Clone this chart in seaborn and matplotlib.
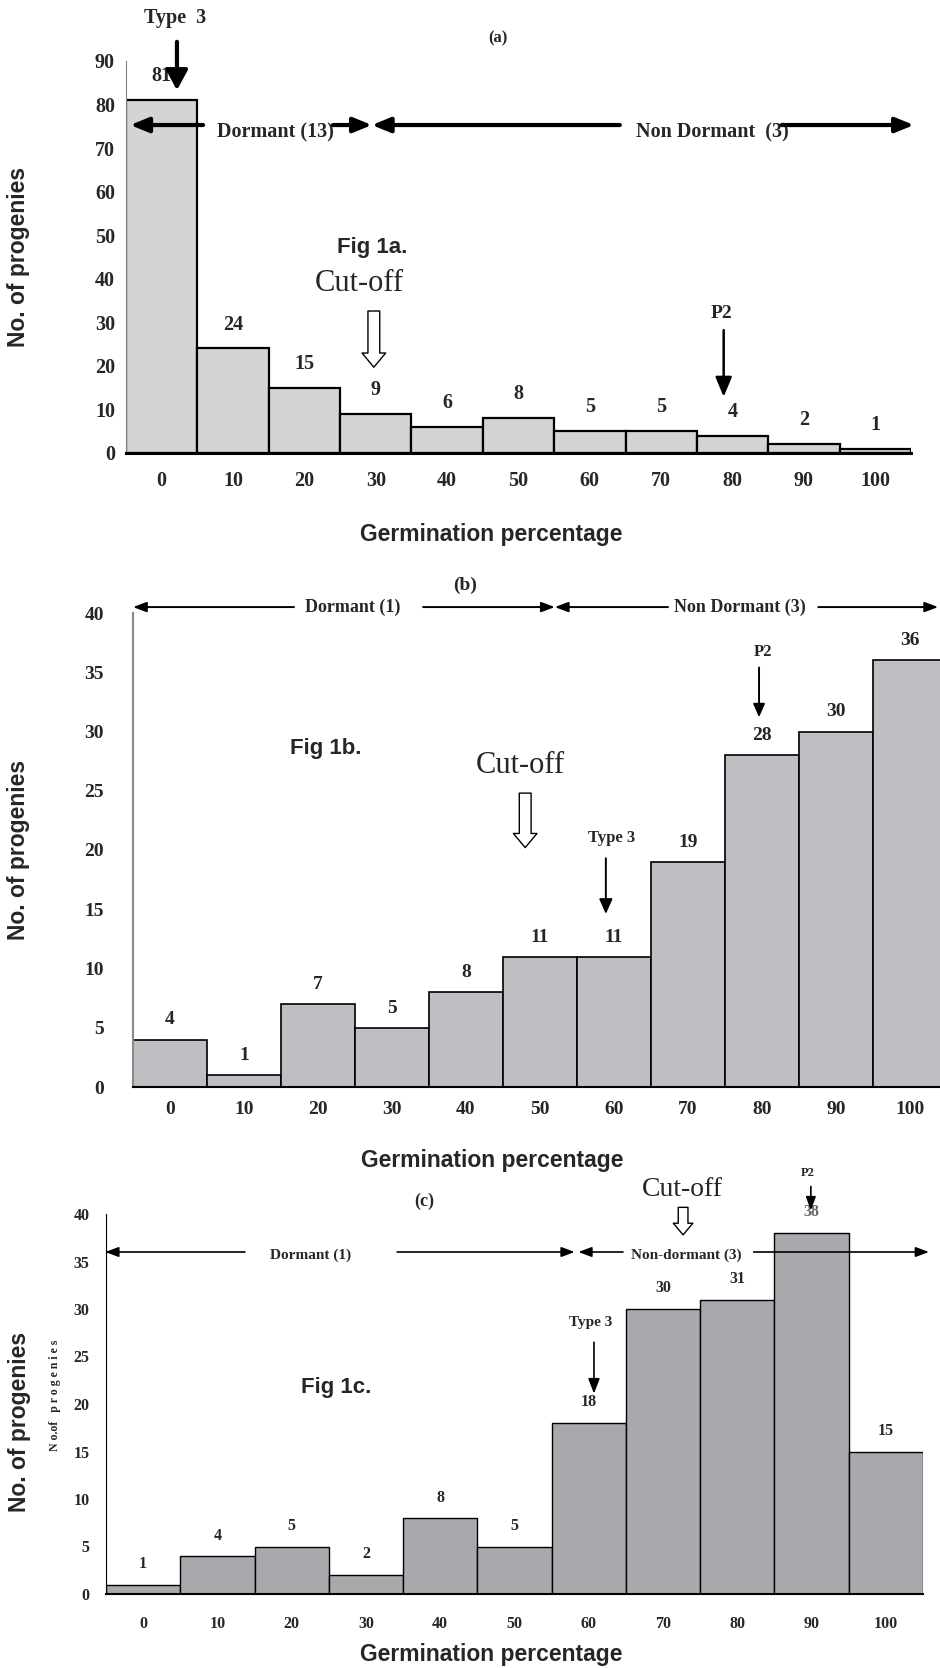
import matplotlib
matplotlib.use('Agg')
import matplotlib.pyplot as plt
import seaborn as sns
import numpy as np

# ==================== Data ====================
germ_pct = ['0', '10', '20', '30', '40', '50', '60', '70', '80', '90', '100']
counts_a = [81, 24, 15, 9, 6, 8, 5, 5, 4, 2, 1]
counts_b = [4, 1, 7, 5, 8, 11, 11, 19, 28, 30, 36]
counts_c = [1, 4, 5, 2, 8, 5, 18, 30, 31, 38, 15]

sns.set_style('white')
plt.rcParams['font.family'] = ['Liberation Serif', 'DejaVu Serif']
plt.rcParams['font.weight'] = 'bold'

W, H = 940, 1668
fig = plt.figure(figsize=(W / 100, H / 100), dpi=100)
SANS = ['Liberation Sans', 'DejaVu Sans']


def make_axes(left, right, top, bottom):
    # pixel box -> figure fraction
    return fig.add_axes([left / W, 1 - bottom / H, (right - left) / W, (bottom - top) / H])


def fig_label(x, y, s, rot=0, size=16.5):
    fig.text(x / W, 1 - y / H, s, ha='center', va='center', rotation=rot,
             fontsize=size, family=SANS, weight='bold')


def arrow(ax, start, end, lw, hl, hw, ms=10):
    ax.annotate('', xy=end, xytext=start,
                arrowprops=dict(arrowstyle=f'-|>,head_length={hl},head_width={hw}',
                                lw=lw, color='black', shrinkA=0, shrinkB=0,
                                mutation_scale=ms),
                annotation_clip=False)


def hollow_arrow(ax, x, y0, y1, ms):
    ax.annotate('', xy=(x, y1), xytext=(x, y0),
                arrowprops=dict(arrowstyle='simple,head_length=0.6,head_width=1.0,tail_width=0.5',
                                fc='white', ec='black', lw=1.0, shrinkA=0, shrinkB=0,
                                mutation_scale=ms),
                annotation_clip=False)


def label(ax, x, y, s, size, sans=False, **kw):
    fam = SANS if sans else ['Liberation Serif', 'DejaVu Serif']
    ax.text(x, y, s, ha='center', va='center', fontsize=size, family=fam,
            weight='bold', clip_on=False, **kw)


def cutoff(ax, x, y, size):
    ax.text(x, y, 'Cut-off', ha='center', va='center', fontsize=size,
            family=['Liberation Serif'], weight='normal', clip_on=False)


def draw_panel(ax, counts, color, edge_lw, ymax, ystep, tsize, xpad, ypad, ytick_len,
               left_color, left_lw, bottom_lw, bar_pad):
    sns.barplot(x=germ_pct, y=counts, ax=ax, color=color, saturation=1, width=1.0,
                edgecolor='black', linewidth=edge_lw, errorbar=None)
    ax.set_ylim(0, ymax)
    ax.set_xlim(-0.5, len(germ_pct) - 0.5)
    ax.set_yticks(np.arange(0, ymax + 1, ystep))
    ax.set_xticks(np.arange(-0.5, len(germ_pct), 1), minor=True)
    ax.tick_params(axis='x', which='major', length=0, pad=xpad, labelsize=tsize)
    ax.tick_params(axis='x', which='minor', length=6, width=1, direction='out', color='black')
    ax.tick_params(axis='y', length=ytick_len, width=1, direction='out', pad=ypad,
                   labelsize=tsize, color=left_color)
    for lab in ax.get_xticklabels() + ax.get_yticklabels():
        lab.set_fontweight('bold')
    for s in ['top', 'right']:
        ax.spines[s].set_visible(False)
    ax.spines['left'].set_color(left_color)
    ax.spines['left'].set_linewidth(left_lw)
    ax.spines['bottom'].set_color('black')
    ax.spines['bottom'].set_linewidth(bottom_lw)
    ax.bar_label(ax.containers[0], padding=bar_pad, fontsize=tsize, fontweight='bold',
                 family=['Liberation Serif', 'DejaVu Serif'])
    ax.set_xlabel('')
    ax.set_ylabel('')


# ==================== Panel (a) ====================
ax_a = make_axes(126, 911, 61, 453)
draw_panel(ax_a, counts_a, '#d4d4d6', 1.6, 90, 10, 14.5, 13, 4, 4,
           '#808080', 0.8, 2.2, 10)
fig_label(491, 534, 'Germination percentage')
fig_label(19, 257, 'No. of progenies', rot=90)

label(ax_a, 0.19, 99.9, 'Type  3', 14.5)
arrow(ax_a, (0.214, 94.4), (0.214, 83.3), 3.0, 1.2, 0.65)
label(ax_a, 4.71, 95.3, '(a)', 12)
arrow(ax_a, (0.58, 75.3), (-0.44, 75.3), 3.0, 1.1, 0.45)
label(ax_a, 1.60, 73.5, 'Dormant (13)', 14.5)
arrow(ax_a, (2.40, 75.3), (2.945, 75.3), 3.0, 1.1, 0.45)
arrow(ax_a, (6.42, 75.3), (2.945, 75.3), 3.0, 1.1, 0.45)
label(ax_a, 7.72, 73.5, 'Non Dormant  (3)', 14.5)
arrow(ax_a, (8.69, 75.3), (10.54, 75.3), 3.0, 1.1, 0.45)
label(ax_a, 2.945, 47.1, 'Fig 1a.', 16, sans=True)
cutoff(ax_a, 2.763, 39.0, 22)
hollow_arrow(ax_a, 2.973, 32.6, 19.7, 17)
label(ax_a, 7.85, 32.1, 'P2', 14)
arrow(ax_a, (7.875, 28.2), (7.875, 12.9), 1.8, 1.2, 0.5)

# ==================== Panel (b) ====================
ax_b = make_axes(133, 947, 613, 1087)
draw_panel(ax_b, counts_b, '#bebfc3', 1.2, 40, 5, 14, 10, 13, 8,
           '#8a8a8a', 1.5, 1.5, 8)
fig_label(492, 1160, 'Germination percentage')
fig_label(19, 850, 'No. of progenies', rot=90)

label(ax_b, 3.99, 42.3, '(b)', 14)
arrow(ax_b, (1.676, 40.5), (-0.5, 40.5), 1.4, 0.8, 0.3)
label(ax_b, 2.47, 40.5, 'Dormant (1)', 13)
arrow(ax_b, (3.42, 40.5), (5.20, 40.5), 1.4, 0.8, 0.3)
arrow(ax_b, (6.73, 40.5), (5.20, 40.5), 1.4, 0.8, 0.3)
label(ax_b, 7.70, 40.5, 'Non Dormant (3)', 13)
arrow(ax_b, (8.76, 40.5), (10.38, 40.5), 1.4, 0.8, 0.3)
label(ax_b, 8.01, 36.7, 'P2', 12)
arrow(ax_b, (7.96, 35.4), (7.96, 31.2), 1.4, 0.8, 0.35)
label(ax_b, 2.11, 28.6, 'Fig 1b.', 16, sans=True)
cutoff(ax_b, 4.74, 27.1, 22)
hollow_arrow(ax_b, 4.80, 24.8, 20.2, 17)
label(ax_b, 5.97, 21.0, 'Type 3', 12)
arrow(ax_b, (5.89, 19.3), (5.89, 14.6), 1.4, 0.9, 0.4)

# ==================== Panel (c) ====================
ax_c = make_axes(106, 923, 1214, 1594)
draw_panel(ax_c, counts_c, '#a8a9ad', 1.0, 40, 5, 11.5, 16, 7, 5,
           'black', 0.8, 1.5, 9)
# the "38" label sits under the P2 arrow and prints lighter
ax_c.texts[-2].set_color('#666666')
fig_label(491, 1655, 'Germination percentage')
fig_label(20, 1422, 'No. of progenies', rot=90)
fig.text(55 / W, 1 - 1395 / H, 'N o.of   p r o g e n i e s', rotation=90,
         ha='center', va='center', fontsize=8.5, weight='bold')

label(ax_c, 3.78, 41.3, '(c)', 13)
cutoff(ax_c, 7.256, 42.6, 20)
hollow_arrow(ax_c, 7.27, 40.7, 37.8, 14)
label(ax_c, 8.95, 44.3, 'P2', 9)
arrow(ax_c, (8.99, 42.9), (8.99, 40.4), 1.2, 0.8, 0.3)
arrow(ax_c, (1.37, 36.0), (-0.51, 36.0), 1.2, 0.8, 0.3)
label(ax_c, 2.25, 35.7, 'Dormant (1)', 11)
arrow(ax_c, (3.42, 36.0), (5.81, 36.0), 1.2, 0.8, 0.3)
arrow(ax_c, (6.46, 36.0), (5.86, 36.0), 1.2, 0.8, 0.3)
label(ax_c, 7.31, 35.7, 'Non-dormant (3)', 11)
arrow(ax_c, (8.22, 36.0), (10.58, 36.0), 1.2, 0.8, 0.3)
label(ax_c, 6.02, 28.6, 'Type 3', 11)
arrow(ax_c, (6.07, 26.5), (6.07, 21.1), 1.2, 0.9, 0.35)
label(ax_c, 2.60, 21.7, 'Fig 1c.', 16, sans=True)

fig.savefig('out.png', dpi=100)
